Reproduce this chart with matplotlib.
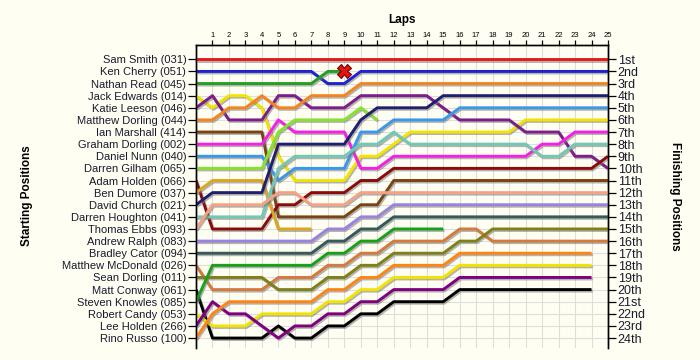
import matplotlib
matplotlib.use("Agg")
import matplotlib.pyplot as plt
import matplotlib.patheffects as pe

# ---------------------------------------------------------------
# data: grid order, one colour per driver, position at each lap
# (lap 0 = grid, list stops at the last lap the driver completed)
# ---------------------------------------------------------------
drivers = ["Sam Smith (031)", "Ken Cherry (051)", "Nathan Read (045)",
           "Jack Edwards (014)", "Katie Leeson (046)", "Matthew Dorling (044)",
           "Ian Marshall (414)", "Graham Dorling (002)", "Daniel Nunn (040)",
           "Darren Gilham (065)", "Adam Holden (066)", "Ben Dumore (037)",
           "David Church (021)", "Darren Houghton (041)", "Thomas Ebbs (093)",
           "Andrew Ralph (083)", "Bradley Cator (094)", "Matthew McDonald (026)",
           "Sean Dorling (011)", "Matt Conway (061)", "Steven Knowles (085)",
           "Robert Candy (053)", "Lee Holden (266)", "Rino Russo (100)"]

colors = ["#e8191c", "#1f22d0", "#22a022", "#f2e400", "#7e1c8c", "#f5841f",
          "#7a4312", "#f51fe8", "#3a98ec", "#86e22a", "#8b0a0a", "#dca61e",
          "#1f1f6e", "#72c8b4", "#f4a184", "#9a82e0", "#355a5a", "#d67a3c",
          "#808018", "#000000", "#18a018", "#f2e400", "#800080", "#ff8412"]

positions = [
    [1] * 26,
    [2] * 8 + [3, 3] + [2] * 16,
    [3] * 8 + [2, 2],
    [4, 5, 4, 4, 5, 9, 11, 11, 11, 11, 9, 9, 8] + [7] * 7 + [6] * 6,
    [5, 4, 6, 6, 6, 4, 4, 5, 5, 5, 4, 4, 4, 4, 4, 5, 6, 6, 6, 6, 7, 7, 7, 9, 9, 10],
    [6, 6, 5, 5, 4, 5, 5, 4, 4, 4] + [3] * 16,
    [7, 7, 7, 7, 7, 14, 14, 14, 14, 14, 13, 13] + [11] * 14,
    [8, 8, 8, 8, 8, 6, 7, 7, 7, 7, 10, 10] + [9] * 9 + [8, 8] + [7, 7, 7],
    [9, 9, 9, 9, 9, 11, 10, 10, 10, 10, 7, 7, 6, 6, 6, 6] + [5] * 10,
    [10, 10, 10, 10, 10, 7, 6, 6, 6, 6, 5, 6],
    [11, 15, 15, 15, 15, 13, 13, 12, 12, 12, 11, 11] + [10] * 13 + [9],
    [12, 11, 11, 11, 11, 15, 15, 15],
    [13, 12, 12, 12, 12, 8, 8, 8, 8, 8, 6, 5, 5, 5, 5] + [4] * 11,
    [14, 14, 14, 14, 14, 10, 9, 9, 9, 9, 8, 8, 7] + [8] * 8 + [9, 9] + [8, 8, 8],
    [15, 13, 13, 13, 13, 12, 12, 13, 13, 13] + [12] * 16,
    [16] * 8 + [15, 15, 14, 14] + [13] * 14,
    [17] * 8 + [16, 16, 15, 15] + [14] * 14,
    [18, 20, 20, 20, 20, 19, 19, 19, 18, 18, 17, 17, 16, 16, 16, 16, 15, 15] + [16] * 8,
    [19, 19, 19, 19, 19, 20, 20, 20, 19, 19, 18, 18, 17, 17, 17, 17, 16, 16] + [15] * 8,
    [20, 24, 24, 24, 24, 23, 24, 24, 23, 23, 22, 22, 21, 21, 21, 21] + [20] * 9,
    [21, 18, 18, 18, 18, 18, 18, 18, 17, 17, 16, 16, 15, 15, 15, 15],
    [22, 23, 23, 23, 22, 22, 22, 22, 21, 21, 20, 20, 19, 19, 19, 19] + [18] * 9,
    [23, 21, 22, 22, 23, 24, 23, 23, 22, 22, 21, 21, 20, 20, 20, 20] + [19] * 9,
    [24, 22, 21, 21, 21, 21, 21, 21, 20, 20, 19, 19, 18, 18, 18, 18] + [17] * 9,
]

finish_labels = ["1st", "2nd", "3rd"] + [f"{i}th" for i in range(4, 21)] + \
                ["21st", "22nd", "23rd", "24th"]

crashed = "Nathan Read (045)"   # marked with a red cross where it stopped
n_laps = 25

# ---------------------------------------------------------------
bg = "#fefef2"
plt.rcParams["font.family"] = ["Liberation Sans", "DejaVu Sans"]

fig = plt.figure(figsize=(7, 3.6), dpi=100, facecolor=bg)
ax = fig.add_axes([196 / 700, 12 / 360, 412 / 700, 303 / 360], facecolor=bg)

ax.set_xlim(0, n_laps)
ax.set_ylim(24.82, -0.18)

# grid
for lap in range(n_laps + 1):
    ax.axvline(lap, color="#dedede", lw=0.8, zorder=0)
for p in range(1, 25):
    ax.axhline(p, color="#dedede", lw=0.8, zorder=0)

shadow = [pe.SimpleLineShadow(offset=(0.9, -1.1), shadow_color="#777777", alpha=0.55),
          pe.Normal()]

for name, col, pos in zip(drivers, colors, positions):
    laps = list(range(len(pos)))
    ax.plot(laps, pos, color=col, lw=2.1, solid_joinstyle="round",
            solid_capstyle="butt", path_effects=shadow, zorder=3)
    if name == crashed:
        ax.plot(laps[-1], pos[-1], marker="X", ms=10, color="#ee1111",
                mec="#6a0000", mew=0.8, zorder=5)

# top lap axis
ax.xaxis.tick_top()
ax.set_xticks(range(1, n_laps + 1))
ax.set_xticklabels([str(i) for i in range(1, n_laps + 1)], fontsize=5.5)
ax.tick_params(axis="x", length=3.5, width=0.9, pad=1, colors="black")
ax.set_title("Laps", fontsize=8.5, fontweight="bold", pad=16)

# starting positions on the left
ax.set_yticks(range(1, 25))
ax.set_yticklabels(drivers, fontsize=8, color="#1a1a2e")
ax.tick_params(axis="y", length=6, width=0.9, pad=1)

# finishing positions on the right
ax2 = ax.twinx()
ax2.set_ylim(ax.get_ylim())
ax2.set_yticks(range(1, 25))
ax2.set_yticklabels(finish_labels, fontsize=9, color="#1a1a2e")
ax2.tick_params(axis="y", length=6, width=0.9, pad=1)

for a in (ax, ax2):
    for s in a.spines.values():
        s.set_linewidth(1.0)
        s.set_color("black")
ax.spines["bottom"].set_visible(False)
ax2.spines["bottom"].set_visible(False)

fig.text(27 / 700, 1 - 196 / 360, "Starting Positions", rotation=90,
         ha="center", va="center", fontsize=8.5, fontweight="bold")
fig.text(675 / 700, 1 - 196 / 360, "Finishing Positions", rotation=270,
         ha="center", va="center", fontsize=8.5, fontweight="bold")

fig.savefig("out.png", dpi=100, facecolor=bg)
